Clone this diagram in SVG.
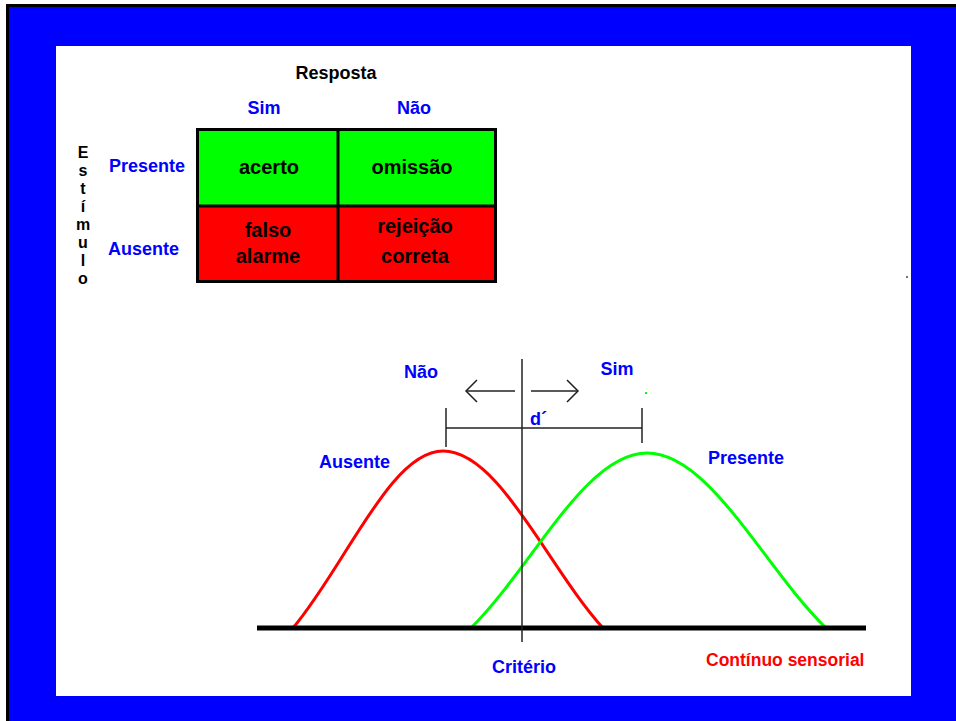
<svg xmlns="http://www.w3.org/2000/svg" width="956" height="721" viewBox="0 0 956 721">
<style>
text{font-family:"Liberation Sans",Arial,sans-serif;font-weight:bold}
.lbl{font-size:18px;fill:#0000ff}
.cell{font-size:20px;fill:#000;text-anchor:middle}
.est{font-size:16px;fill:#000;writing-mode:vertical-rl;text-orientation:upright;letter-spacing:1px}
.thin{stroke:#222;stroke-width:1.5;fill:none}
.curve{fill:none;stroke-width:3}
</style>
<rect x="0" y="0" width="956" height="721" fill="#fff"/>
<rect x="6" y="4" width="950" height="717" fill="#000"/>
<rect x="9" y="7" width="947" height="714" fill="#0000ff"/>
<rect x="56" y="46" width="855" height="650" fill="#fff"/>

<g id="table">
  <rect x="197.5" y="129.5" width="141" height="77" fill="#00ff00"/>
  <rect x="338" y="129.5" width="157.5" height="77" fill="#00ff00"/>
  <rect x="197.5" y="206" width="141" height="75.5" fill="#ff0000"/>
  <rect x="338" y="206" width="157.5" height="75.5" fill="#ff0000"/>
  <rect x="197.5" y="129.5" width="298" height="152" fill="none" stroke="#000" stroke-width="3"/>
  <line x1="338" y1="129" x2="338" y2="282" stroke="#000" stroke-width="3"/>
  <line x1="197" y1="206" x2="496" y2="206" stroke="#000" stroke-width="3"/>
</g>
<g id="table-text">
  <text x="336" y="79" font-size="18" text-anchor="middle" fill="#000">Resposta</text>
  <text class="lbl" x="264" y="114" text-anchor="middle">Sim</text>
  <text class="lbl" x="414" y="114" text-anchor="middle">Não</text>
  <text class="lbl" x="109" y="172">Presente</text>
  <text class="lbl" x="108" y="255">Ausente</text>
  <text class="cell" x="269" y="174">acerto</text>
  <text class="cell" x="412" y="174">omissão</text>
  <text class="cell" x="268" y="237">falso</text>
  <text class="cell" x="268" y="263">alarme</text>
  <text class="cell" x="415" y="233">rejeição</text>
  <text class="cell" x="415" y="263">correta</text>
</g>
<g id="estimulo">
  <text class="est" x="83" y="144">Estímulo</text>
</g>

<g id="curves">
  <path id="ausente-curve" class="curve" stroke="#ff0000" d="M293,628 C345.5,566 390.5,451 443,451 C499,451 547,566 603,628"/>
  <path id="presente-curve" class="curve" stroke="#00ff00" d="M471,628 C532.6,566.8 585.4,453 647,453 C709.7,453 763.4,566.8 826,628"/>
</g>

<g id="connectors">
  <line x1="257" y1="628" x2="866" y2="628" stroke="#000" stroke-width="5"/>
  <line class="thin" x1="522" y1="359" x2="522" y2="642"/>
  <line class="thin" x1="466" y1="391" x2="515" y2="391"/>
  <polyline class="thin" points="477,380 466,391 477,402"/>
  <line class="thin" x1="531" y1="391" x2="578" y2="391"/>
  <polyline class="thin" points="567,380 578,391 567,402"/>
  <line class="thin" x1="446" y1="428" x2="642" y2="428"/>
  <line class="thin" x1="446" y1="408" x2="446" y2="447"/>
  <line class="thin" x1="642" y1="408" x2="642" y2="443"/>
</g>

<g id="graph-labels">
  <text class="lbl" x="421" y="378" text-anchor="middle">Não</text>
  <text class="lbl" x="617" y="375" text-anchor="middle">Sim</text>
  <text class="lbl" x="530" y="425" font-size="20">d´</text>
  <text class="lbl" x="319" y="468">Ausente</text>
  <text class="lbl" x="708" y="464">Presente</text>
  <text class="lbl" x="524" y="673" text-anchor="middle">Critério</text>
  <text x="706" y="666" font-size="17.5" fill="#ff0000">Contínuo sensorial</text>
</g>
<rect x="645" y="392" width="2" height="2" fill="#00ff00"/>
<rect x="906" y="276" width="2" height="2" fill="#777"/>
</svg>
